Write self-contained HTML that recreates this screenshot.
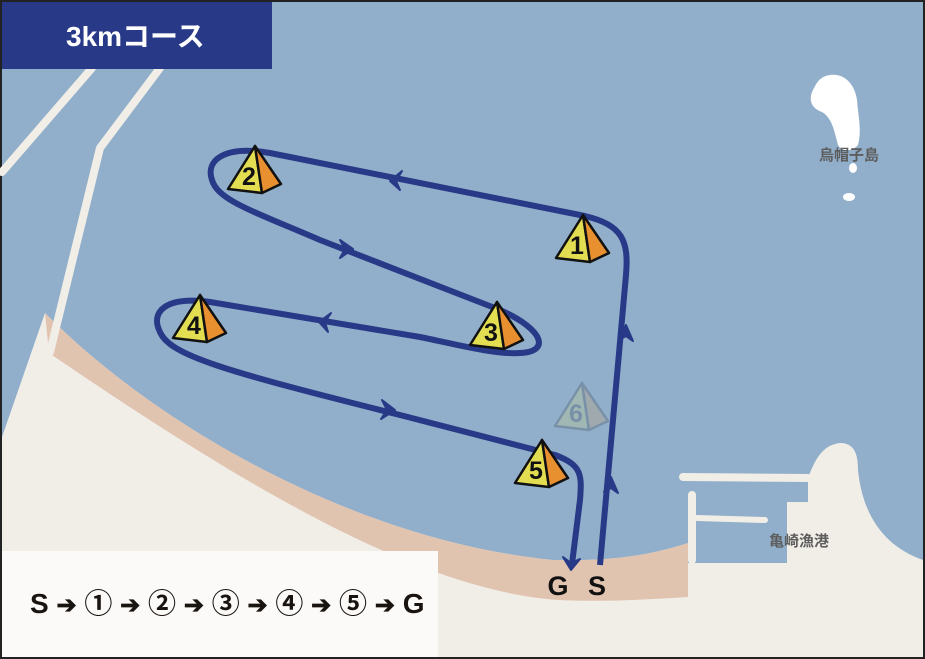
<!DOCTYPE html>
<html><head><meta charset="utf-8"><style>
html,body{margin:0;padding:0;background:#222;}
svg{display:block;}
text{font-family:"Liberation Sans","Noto Sans CJK JP",sans-serif;font-weight:bold;}
</style></head><body>
<svg width="925" height="659" viewBox="0 0 925 659" xmlns="http://www.w3.org/2000/svg">
<defs>
<g id="mk">
<path d="M0,0 L-27,43 L7,47 Z" fill="#e3dd52" stroke="#111" stroke-width="2.5" stroke-linejoin="round"/>
<path d="M0,0 L7,47 L26,38 Z" fill="#e89030" stroke="#111" stroke-width="2.5" stroke-linejoin="round"/>
</g>
</defs>
<rect x="2" y="2" width="921" height="655" fill="#91afca"/>
<path d="M2,657 L2,437 L45,313 C150,420 350,540 553,560 C620,562 660,552 688,543 L688,563 L787,563 L787,502 L808,502 L808,478 C815,460 822,445 840,443 C855,443 858,455 858,470 C862,510 880,545 923,560 L923,657 Z" fill="#f1eee8"/>
<path d="M45,313 C150,420 350,540 553,560 C620,562 660,552 688,543 L688,597 C640,600 600,602 558,600 C420,590 250,490 49,353 Z" fill="#e1c4b0"/>
<g stroke="#f1eee8" stroke-width="8" fill="none" stroke-linecap="round" stroke-linejoin="round">
<path d="M50,352 L100,148 L160,68"/>
<path d="M2,172 L92,68"/>
<path d="M683,477 L808,478"/>
<path d="M692,495 L692,560"/>
<path d="M697,518 L765,520" stroke-width="6"/>
</g>
<path d="M830,75 C845,73 855,85 857,100 C858,115 862,130 858,145 C852,152 842,152 838,145 C834,130 832,118 822,112 C810,108 808,98 814,88 C818,80 822,76 830,75 Z" fill="#fff"/>
<ellipse cx="853" cy="168" rx="4" ry="5" fill="#fff"/>
<ellipse cx="849" cy="197" rx="6" ry="4" fill="#fff"/>
<text x="849" y="160" font-size="15" fill="#5d5d5d" text-anchor="middle">烏帽子島</text>
<text x="799" y="546" font-size="15" fill="#5d5d5d" text-anchor="middle">亀崎漁港</text>
<rect x="2" y="2" width="270" height="67" fill="#283a87"/>
<text x="66" y="46" font-size="28" fill="#fff">3kmコース</text>
<path d="M600,565 L626,275 C629,240 622,225 585,216 L270,153 C225,145 205,160 212,180 C218,200 250,210 320,240 L500,310 C545,330 550,352 520,353 C495,355 450,343 420,337 L210,302 C165,296 150,312 160,332 C170,355 220,370 400,415 L555,455 C582,465 582,475 580,500 L572,564" fill="none" stroke="#283a87" stroke-width="6" stroke-linejoin="round"/>
<g fill="#283a87" stroke="#283a87" stroke-width="2" stroke-linejoin="round">
<path d="M619,340 L626,325 L633,341 L626,336 Z"/>
<path d="M604,492 L611,477 L618,493 L611,488 Z"/>
<path d="M402,171 L390,181 L400,190 L396,181 Z"/>
<path d="M340,240 L353,249 L340,258 L345,249 Z"/>
<path d="M331,313 L319,322 L328,332 L325,322 Z"/>
<path d="M382,400 L395,410 L381,419 L387,410 Z"/>
<path d="M563,557 L571,570 L580,559 L571,563 Z"/>
</g>
<g transform="translate(583,215)"><use href="#mk"/><text x="-6" y="39" font-size="25" text-anchor="middle" fill="#111">1</text></g>
<g transform="translate(255,146)"><use href="#mk"/><text x="-6" y="39" font-size="25" text-anchor="middle" fill="#111">2</text></g>
<g transform="translate(497,302)"><use href="#mk"/><text x="-6" y="39" font-size="25" text-anchor="middle" fill="#111">3</text></g>
<g transform="translate(200,295)"><use href="#mk"/><text x="-6" y="39" font-size="25" text-anchor="middle" fill="#111">4</text></g>
<g transform="translate(542,440)"><use href="#mk"/><text x="-6" y="39" font-size="25" text-anchor="middle" fill="#111">5</text></g>
<g transform="translate(582,383)" opacity="0.18"><use href="#mk"/><text x="-6" y="39" font-size="25" text-anchor="middle" fill="#111">6</text></g>
<text x="558" y="595" font-size="27" text-anchor="middle" fill="#111">G</text>
<text x="597" y="595" font-size="27" text-anchor="middle" fill="#111">S</text>
<rect x="2" y="551" width="436" height="106" fill="#fbfaf8"/>
<text x="30" y="613" font-size="28" fill="#1a1410">S <tspan font-size="24">➔</tspan> ① <tspan font-size="24">➔</tspan> ② <tspan font-size="24">➔</tspan> ③ <tspan font-size="24">➔</tspan> ④ <tspan font-size="24">➔</tspan> ⑤ <tspan font-size="24">➔</tspan> G</text>
</svg>
</body></html>
